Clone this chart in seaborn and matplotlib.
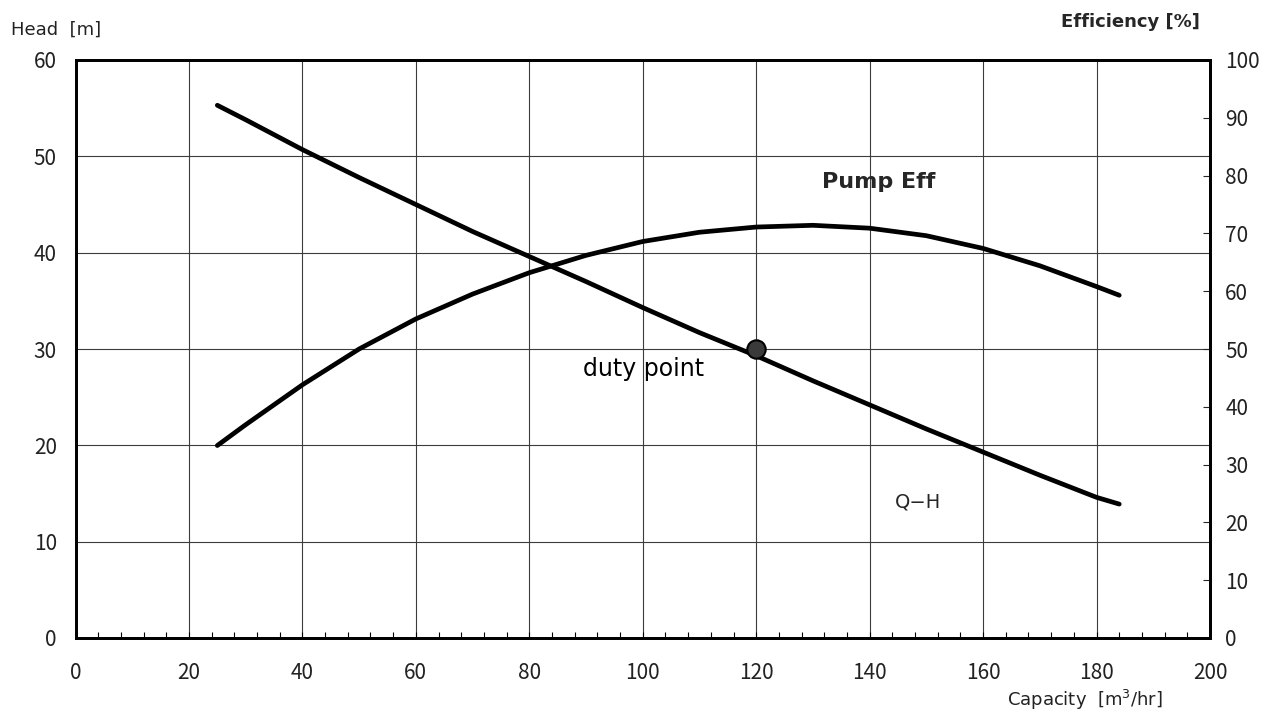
import numpy as np
import pandas as pd
import matplotlib
matplotlib.use("Agg")
import matplotlib.pyplot as plt
from matplotlib.ticker import MultipleLocator
import seaborn as sns

# values
QH_FLOW = [25, 30, 40, 50, 60, 70, 80, 90, 100, 110, 120, 130, 140, 150, 160, 170, 180, 184]
QH_HEAD = [55.3, 53.8, 50.7, 47.8, 45.0, 42.2, 39.6, 37.0, 34.3, 31.7, 29.3, 26.7, 24.2, 21.7, 19.3, 16.9, 14.6, 13.9]
EFF_FLOW = [25, 30, 40, 50, 60, 70, 80, 90, 100, 110, 120, 130, 140, 150, 160, 170, 180, 184]
EFF_PCT = [33.3, 36.9, 43.8, 50.0, 55.2, 59.5, 63.2, 66.2, 68.6, 70.2, 71.1, 71.4, 70.9, 69.6, 67.4, 64.4, 60.8, 59.3]
DUTY_FLOW = [120]
DUTY_HEAD = [30]

qh = pd.DataFrame({"flow": QH_FLOW, "head": QH_HEAD})
eff = pd.DataFrame({"flow": EFF_FLOW, "eff": EFF_PCT})
duty = pd.DataFrame({"flow": DUTY_FLOW, "head": DUTY_HEAD})

sns.set_style("white")
plt.rcParams["font.family"] = ["DejaVu Sans"]
TICK_FONT = ["Noto Sans CJK KR", "DejaVu Sans"]

W, H = 1264, 715
fig, ax = plt.subplots(figsize=(W / 100, H / 100), dpi=100)
fig.subplots_adjust(left=75.5 / W, right=1210 / W, bottom=1 - 638 / H, top=1 - 60 / H)
ax2 = ax.twinx()

line_kw = dict(color="black", linewidth=3.4, solid_capstyle="round")
sns.lineplot(data=qh, x="flow", y="head", ax=ax, sort=False, **line_kw)
sns.lineplot(data=eff, x="flow", y="eff", ax=ax2, sort=False, **line_kw)
sns.scatterplot(data=duty, x="flow", y="head", ax=ax, s=175, color="#3a3a3a",
                edgecolor="black", linewidth=1.5, zorder=5)

ax.set_xlim(0, 200); ax.set_ylim(0, 60)
ax2.set_ylim(0, 100)
ax.xaxis.set_major_locator(MultipleLocator(20))
ax.xaxis.set_minor_locator(MultipleLocator(4))
ax.yaxis.set_major_locator(MultipleLocator(10))
ax2.yaxis.set_major_locator(MultipleLocator(10))
ax.grid(True, which="major", color="#3c3c3c", linewidth=0.8)
ax.set_axisbelow(True)

for a in (ax, ax2):
    for s in a.spines.values():
        s.set_linewidth(2.0); s.set_color("black")
ax.tick_params(axis="x", which="both", bottom=True, direction="in", length=4.5, width=0.8,
               labelsize=15, pad=17, colors="black", labelcolor="#222222")
ax.tick_params(axis="y", which="both", left=False, labelsize=15, pad=10, labelcolor="#222222")
ax2.tick_params(axis="y", right=True, direction="in", length=5, width=0.8, labelsize=15,
                pad=11, labelcolor="#222222")
for lab in ax.get_xticklabels() + ax.get_yticklabels() + ax2.get_yticklabels():
    lab.set_family(TICK_FONT)
ax.set_xlabel(""); ax.set_ylabel(""); ax2.set_ylabel("")

ax.text(100.2, 27.9, "duty point", fontsize=17, ha="center", va="center", color="black")
ax.text(141.6, 47.3, "Pump Eff", fontsize=16, fontweight="bold", ha="center", va="center")
ax.text(148.5, 14.1, "Q\u2212H", fontsize=14, ha="center", va="center")

fig.text(11 / W, 1 - 30 / H, "Head  [m]", fontsize=13, ha="left", va="center", color="#222222")
fig.text(1200 / W, 1 - 22 / H, "Efficiency [%]", fontsize=13, fontweight="bold",
         ha="right", va="center")
fig.text(1163 / W, 1 - 700 / H, "Capacity  [m$^3$/hr]", fontsize=13, ha="right",
         va="center", color="#222222")

fig.savefig("out.png", dpi=100)
